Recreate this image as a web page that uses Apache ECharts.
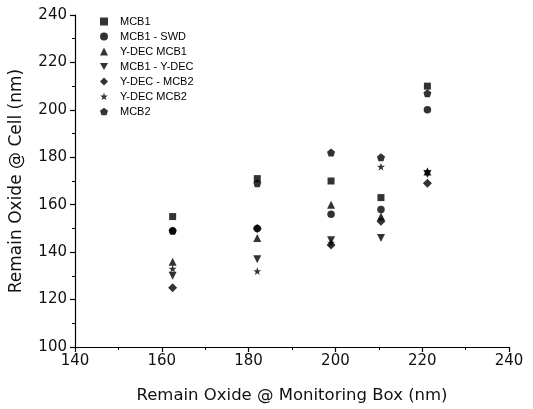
<!DOCTYPE html>
<html>
<head>
<meta charset="utf-8">
<script src="https://cdn.jsdelivr.net/npm/echarts@6/dist/echarts.min.js"></script>
<style>
  html, body { margin: 0; padding: 0; background: #fff; }
  #main { width: 533px; height: 409px; }
</style>
</head>
<body>
<div id="main"></div>
<script>
    // x positions of the five measured columns (Monitoring Box, nm)
    var boxX = [162.5, 182, 199, 210.5, 221.2];

    var seriesNames = ['MCB1', 'MCB1 - SWD', 'Y-DEC MCB1', 'MCB1 - Y-DEC', 'Y-DEC - MCB2', 'Y-DEC MCB2', 'MCB2'];

    // remain oxide @ cell, one value per column
    var mcb1 = [155, 171, 170, 163, 210];
    var mcb1Swd = [149, 150, 156, 158, 200];
    var ydecMcb1 = [136, 146, 160, 155, 174];
    var mcb1Ydec = [130, 137, 145, 146, 173];
    var ydecMcb2Dash = [125, 150, 143, 153, 169];
    var ydecMcb2 = [133, 132, 144, 176, 174];
    var mcb2 = [149, 169, 182, 180, 207];

    var xTicks = [140, 160, 180, 200, 220, 240];
    var yTicks = [100, 120, 140, 160, 180, 200, 220, 240];

    var allValues = [mcb1, mcb1Swd, ydecMcb1, mcb1Ydec, ydecMcb2Dash, ydecMcb2, mcb2];

    var symbols = [
        'rect',
        'circle',
        'triangle',
        'path://M0,0L10,0L5,9Z',
        'diamond',
        'path://M5,0L6.2,3.6L10,3.6L6.9,5.8L8.1,9.5L5,7.2L1.9,9.5L3.1,5.8L0,3.6L3.8,3.6Z',
        'path://M5,0L10,3.8L8.1,9.5L1.9,9.5L0,3.8Z'
    ];
    var sizes = [7, 7.5, 8, 8, 9, 8, 8];

    var font = '"Liberation Sans", Arial, sans-serif';
    var wideFont = '"DejaVu Sans", Verdana, sans-serif';

    var series = seriesNames.map(function (name, i) {
        return {
            name: name,
            type: 'scatter',
            symbol: symbols[i],
            symbolSize: sizes[i],
            itemStyle: {color: '#000'},
            data: boxX.map(function (x, j) { return [x, allValues[i][j]]; })
        };
    });

    var axisCommon = {
        axisLine: {show: true, lineStyle: {color: '#000', width: 1.2}},
        axisTick: {show: true, length: 5, lineStyle: {color: '#000', width: 1.2}},
        minorTick: {show: true, splitNumber: 2, length: 3, lineStyle: {color: '#000', width: 1}},
        splitLine: {show: false},
        axisLabel: {color: '#111', fontSize: 15, fontFamily: wideFont},
        nameTextStyle: {color: '#111', fontSize: 16.5, fontFamily: wideFont}
    };

    var chart = echarts.init(document.getElementById('main'));
    chart.setOption({
        animation: false,
        backgroundColor: '#fff',
        grid: {left: 75, right: 24, top: 15, bottom: 62, outerBoundsMode: 'none'},
        legend: {
            orient: 'vertical',
            left: 95,
            top: 11,
            itemWidth: 8,
            itemHeight: 8,
            itemGap: 4,
            data: seriesNames,
            textStyle: {color: '#000', fontSize: 11, fontFamily: font, padding: [0, 0, 0, 7]}
        },
        xAxis: Object.assign({}, axisCommon, {
            type: 'value',
            min: xTicks[0],
            max: xTicks[xTicks.length - 1],
            interval: 20,
            name: 'Remain Oxide @ Monitoring Box (nm)',
            nameLocation: 'middle',
            nameGap: 40,
            axisLabel: Object.assign({}, axisCommon.axisLabel, {margin: 7})
        }),
        yAxis: Object.assign({}, axisCommon, {
            type: 'value',
            min: yTicks[0],
            max: yTicks[yTicks.length - 1],
            interval: 20,
            name: 'Remain Oxide @ Cell (nm)',
            nameLocation: 'middle',
            nameGap: 50,
            nameTextStyle: {color: '#111', fontSize: 17, fontFamily: wideFont},
            axisLabel: Object.assign({}, axisCommon.axisLabel, {margin: 8})
        }),
        series: series
    });
</script>
</body>
</html>
